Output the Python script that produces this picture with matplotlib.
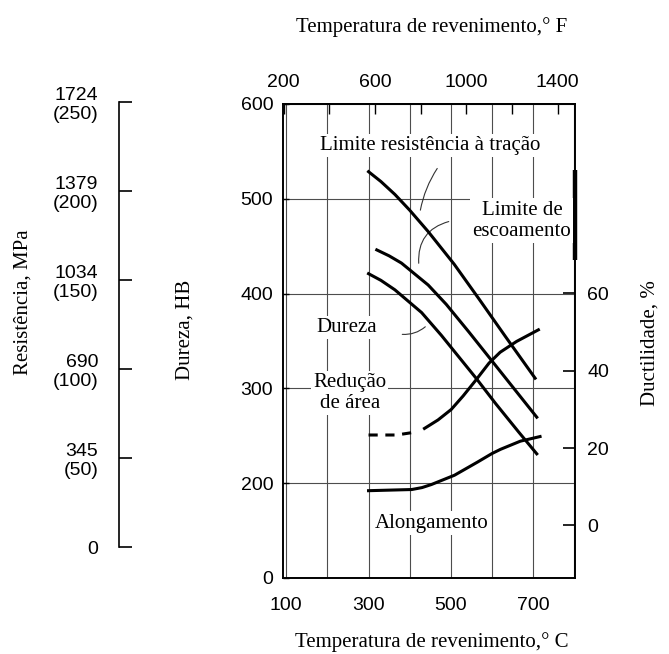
"""
Propriedades mecânicas x temperatura de revenimento
"""
import matplotlib
matplotlib.use("Agg")
import matplotlib.pyplot as plt
from matplotlib import font_manager
from matplotlib.ticker import FixedLocator, FixedFormatter, MultipleLocator

# curvas (temperatura em °C)
tracao_T = [300, 330, 364, 400, 445, 508, 569, 633, 705]
tracao_MPa = [1454, 1416, 1366, 1305, 1222, 1096, 960, 815, 654]

escoamento_T = [320, 350, 380, 445, 489, 544, 593, 649, 709]
escoamento_MPa = [1151, 1128, 1100, 1015, 940, 833, 735, 623, 503]

dureza_T = [300, 330, 364, 429, 477, 561, 609, 665, 709]
dureza_HB = [421, 414, 404, 380, 356, 311, 284, 254, 231]

reducao_T_trac = [300, 368, 417]
reducao_pct_trac = [23.4, 23.4, 24.2]
reducao_T = [436, 469, 501, 530, 561, 593, 620, 660, 713]
reducao_pct = [25.1, 27.3, 30.0, 33.5, 37.6, 42.0, 44.8, 47.6, 50.6]

along_T = [300, 405, 430, 453, 509, 565, 600, 621, 669, 717]
along_pct = [9.0, 9.3, 9.8, 10.6, 13.0, 16.4, 18.6, 19.7, 21.8, 23.0]

# eixos
temp_c_ticks = [100, 300, 500, 700]
temp_f_ticks = [200, 600, 1000, 1400]
temp_f_minor = [400, 800, 1200]
dureza_ticks = [100, 200, 300, 400, 500, 600]
dureza_labels = ["0", "200", "300", "400", "500", "600"]
duct_ticks = [0, 20, 40, 60]
resist_MPa = [0, 345, 690, 1034, 1379, 1724]
resist_ksi = [0, 50, 100, 150, 200, 250]

W, H = 669, 654


def fx(px):
    return px / W


def fy(py):
    return 1 - py / H


names = {f.name for f in font_manager.fontManager.ttflist}
num_font = "Liberation Sans Narrow" if "Liberation Sans Narrow" in names else "Liberation Sans"
serif = "Liberation Serif"

fig = plt.figure(figsize=(6.69, 6.54), dpi=100)

# eixo principal: dureza
ax = fig.add_axes([fx(283), fy(578), (575 - 283) / W, (578 - 104) / H])
ax.set_xlim(92, 802)
ax.set_ylim(100, 600)
ax.xaxis.set_major_locator(FixedLocator(temp_c_ticks))
ax.xaxis.set_minor_locator(MultipleLocator(100))
ax.yaxis.set_major_locator(FixedLocator(dureza_ticks))
ax.yaxis.set_major_formatter(FixedFormatter(dureza_labels))
ax.grid(True, which="both", axis="x", color="0.3", lw=0.8)
ax.grid(True, which="major", axis="y", color="0.3", lw=0.8)
ax.tick_params(axis="x", which="both", direction="in", length=0, pad=14,
               labelsize=14, labelfontfamily=num_font, top=False)
ax.tick_params(axis="y", direction="in", length=4, width=1, pad=7,
               labelsize=14, labelfontfamily=num_font)
for s in ax.spines.values():
    s.set_linewidth(1.2)

ax.plot(dureza_T, dureza_HB, color="k", lw=2.2)

# eixo superior em °F
secax = ax.secondary_xaxis("top", functions=(lambda c: c * 9 / 5 + 32,
                                             lambda f: (f - 32) * 5 / 9))
secax.xaxis.set_major_locator(FixedLocator(temp_f_ticks))
secax.xaxis.set_minor_locator(FixedLocator(temp_f_minor))
secax.tick_params(which="both", direction="in", length=7, width=1, pad=9,
                  labelsize=14, labelfontfamily=num_font)
secax.spines["top"].set_linewidth(1.2)

# ductilidade
axd = ax.twinx()
axd.set_ylim(-13.58, 109.0)
axd.yaxis.set_major_locator(FixedLocator(duct_ticks))
axd.tick_params(axis="y", direction="in", length=8.5, width=1.2, pad=9,
                labelsize=14, labelfontfamily=num_font)
for s in axd.spines.values():
    s.set_linewidth(1.2)
axd.plot(reducao_T_trac, reducao_pct_trac, color="k", lw=2.2, ls=(0, (3, 2.5)))
axd.plot(reducao_T, reducao_pct, color="k", lw=2.2)
axd.plot(along_T, along_pct, color="k", lw=2.2)

# resistência (MPa / ksi), eixo solto à esquerda
axs = fig.add_axes([fx(283), fy(547), (575 - 283) / W, (547 - 102) / H])
axs.set_xlim(ax.get_xlim())
axs.set_ylim(0, 1724)
axs.patch.set_visible(False)
for k in ["top", "right", "bottom"]:
    axs.spines[k].set_visible(False)
axs.spines["left"].set_position(("axes", (119 - 283) / 292))
axs.spines["left"].set_linewidth(1.2)
axs.set_xticks([])
axs.set_yticks(resist_MPa)
axs.set_yticklabels(["0"] + [f"{m}\n({k})" for m, k in zip(resist_MPa[1:], resist_ksi[1:])],
                    linespacing=1.15)
axs.tick_params(axis="y", direction="in", length=9.5, width=1.2, pad=15,
                labelsize=14, labelfontfamily=num_font)
axs.plot(tracao_T, tracao_MPa, color="k", lw=2.2)
axs.plot(escoamento_T, escoamento_MPa, color="k", lw=2.2)

# rótulos internos
box = dict(facecolor="white", edgecolor="none", pad=1.5)
txt = dict(family=serif, fontsize=15, ha="center", va="center", bbox=box, zorder=3)
ax.text(450, 556, "Limite resistência à tração", **txt)
ax.text(673, 477, "Limite de\nescoamento", linespacing=1.15, **txt)
ax.text(247, 364, "Dureza", **txt)
ax.text(254, 295, "Redução\nde área", linespacing=1.15, **txt)
ax.text(453, 158, "Alongamento", **txt)

seta = dict(arrowstyle="-", color="0.2", lw=0.8, shrinkA=0, shrinkB=0)
ax.annotate("", xy=(426, 488), xytext=(467, 532),
            arrowprops=dict(connectionstyle="arc3,rad=0.1", **seta))
ax.annotate("", xy=(422, 432), xytext=(495, 476),
            arrowprops=dict(connectionstyle="arc3,rad=0.4", **seta))
ax.annotate("", xy=(438, 365), xytext=(382, 357),
            arrowprops=dict(connectionstyle="arc3,rad=0.2", **seta))

# traço grosso no eixo direito (como na figura original)
ax.plot([1, 1], [0.671, 0.861], transform=ax.transAxes, color="k", lw=3.2,
        clip_on=False, solid_capstyle="butt")

# títulos dos eixos
fig.text(fx(432), fy(27), "Temperatura de revenimento,° F", family=serif,
         fontsize=15, ha="center", va="center")
fig.text(fx(432), fy(642), "Temperatura de revenimento,° C", family=serif,
         fontsize=15, ha="center", va="center")
fig.text(fx(23), fy(302), "Resistência, MPa", family=serif, fontsize=15,
         rotation=90, ha="center", va="center")
fig.text(fx(185), fy(330), "Dureza, HB", family=serif, fontsize=15,
         rotation=90, ha="center", va="center")
fig.text(fx(650), fy(343), "Ductilidade, %", family=serif, fontsize=15,
         rotation=90, ha="center", va="center")

fig.savefig("out.png", dpi=100)
